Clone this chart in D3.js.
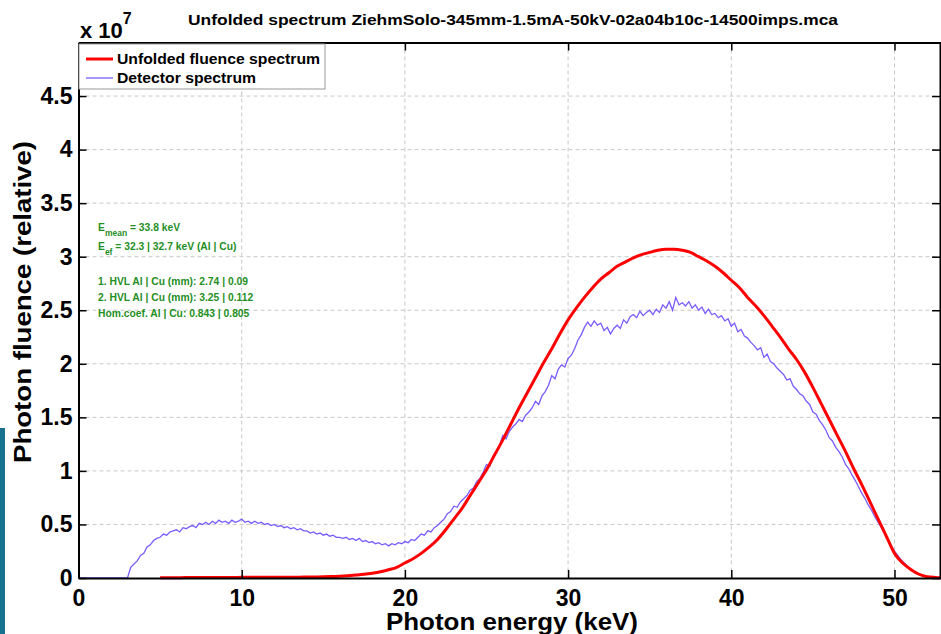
<!DOCTYPE html>
<html>
<head>
<meta charset="utf-8">
<title>Unfolded spectrum</title>
<style>
body { margin: 0; background: #fff; }
text { font-family: "Liberation Sans", Arial, Helvetica, sans-serif; font-weight: bold; }
.grid line { stroke: #c8c8c8; stroke-dasharray: 4,3; stroke-width: 1; }
</style>
</head>
<body>
<script src="https://cdn.jsdelivr.net/npm/d3@7"></script>
<script>
// detector spectrum, 0.2 keV channels starting at 0 keV (units of 1e7)
var detStep = 0.2;
var detValues = [
  0,0,0,0,0, 0,0,0,0,0, 0,0,0,0,0,
  0,0.10,0.13,0.16,0.21,
  0.23,0.29,0.31,0.35,0.37,
  0.38,0.41,0.40,0.43,0.44,
  0.45,0.43,0.47,0.46,0.48,
  0.49,0.47,0.51,0.50,0.52,
  0.50,0.53,0.51,0.54,0.52,
  0.53,0.51,0.54,0.52,0.53,
  0.55,0.52,0.53,0.51,0.53,
  0.51,0.52,0.50,0.51,0.49,
  0.50,0.48,0.49,0.47,0.48,
  0.46,0.47,0.45,0.46,0.44,
  0.44,0.42,0.43,0.41,0.42,
  0.40,0.41,0.39,0.40,0.38,
  0.38,0.37,0.38,0.36,0.37,
  0.35,0.37,0.34,0.35,0.33,
  0.34,0.32,0.33,0.31,0.32,
  0.30,0.32,0.31,0.33,0.32,
  0.34,0.33,0.36,0.35,0.38,
  0.41,0.40,0.44,0.43,0.47,
  0.49,0.52,0.55,0.60,0.62,
  0.67,0.66,0.71,0.74,0.77,
  0.82,0.84,0.90,0.93,0.99,
  1.06,1.04,1.13,1.17,1.24,
  1.33,1.30,1.37,1.41,1.44,
  1.48,1.46,1.52,1.55,1.59,
  1.65,1.62,1.70,1.74,1.80,
  1.89,1.86,1.95,1.99,1.97,
  2.05,2.08,2.14,2.22,2.27,
  2.34,2.39,2.35,2.40,2.36,
  2.38,2.31,2.34,2.28,2.33,
  2.36,2.33,2.41,2.38,2.44,
  2.46,2.43,2.49,2.45,2.48,
  2.50,2.46,2.51,2.48,2.55,
  2.52,2.58,2.50,2.62,2.55,
  2.57,2.54,2.58,2.52,2.55,
  2.50,2.53,2.47,2.51,2.46,
  2.47,2.43,2.45,2.40,2.42,
  2.35,2.38,2.30,2.32,2.26,
  2.24,2.20,2.17,2.13,2.15,
  2.06,2.09,2.02,2.00,1.96,
  1.93,1.90,1.85,1.86,1.79,
  1.76,1.72,1.70,1.65,1.62,
  1.55,1.53,1.47,1.43,1.38,
  1.31,1.28,1.22,1.18,1.13,
  1.06,1.02,0.96,0.91,0.85,
  0.79,0.74,0.68,0.63,0.57,
  0.52,0.47,0.41,0.36,0.30,
  0.25,0.21,0.17,0.14,0.11,
  0.08,0.06,0.045,0.03,0.02,
  0.012,0.008,0.005,0.003,0.002,
  0.001
];

// unfolded fluence, 0.5 keV steps starting at 5 keV
var fluStart = 5, fluStep = 0.5;
var fluValues = [
  0.003,0.003,0.003,0.004,0.004,0.004,0.005,0.005,0.005,0.005,
  0.006,0.006,0.006,0.007,0.007,0.007,0.008,0.008,0.009,0.010,
  0.011,0.013,0.017,0.022,0.028,0.035,0.045,0.058,0.077,0.10,
  0.14,0.18,0.23,0.29,0.36,0.45,0.55,0.65,0.77,0.89,
  1.01,1.15,1.29,1.44,1.59,1.73,1.87,2.01,2.14,2.28,
  2.41,2.52,2.62,2.71,2.79,2.85,2.91,2.95,2.99,3.02,
  3.04,3.06,3.07,3.07,3.06,3.04,3.00,2.96,2.91,2.85,
  2.78,2.71,2.62,2.54,2.45,2.35,2.25,2.14,2.04,1.92,
  1.78,1.63,1.48,1.33,1.18,1.02,0.87,0.71,0.55,0.39,
  0.23,0.14,0.08,0.035,0.012,0.005,0.002
];

var xTicks = [0, 10, 20, 30, 40, 50];
var yTicks = [0, 0.5, 1, 1.5, 2, 2.5, 3, 3.5, 4, 4.5];
var infoLines = [
  "1. HVL Al | Cu (mm): 2.74 | 0.09",
  "2. HVL Al | Cu (mm): 3.25 | 0.112",
  "Hom.coef. Al | Cu: 0.843 | 0.805"
];

var W = 941, H = 634;
var pL = 78.5, pR = 941, pT = 42.5, pB = 578;

var svg = d3.select("body").append("svg")
  .attr("width", W).attr("height", H);

var x = d3.scaleLinear().domain([0, 52.85]).range([pL, pR]);
var y = d3.scaleLinear().domain([0, 5]).range([pB, pT]);

var det = detValues.map(function(v, i) { return { e: i * detStep, v: v }; });
var flu = fluValues.map(function(v, i) { return { e: fluStart + i * fluStep, v: v }; });

// decorative bar on the left edge
svg.append("rect").attr("x", 0).attr("y", 428).attr("width", 5).attr("height", H - 428)
  .attr("fill", "#16708e");

// grid
var grid = svg.append("g").attr("class", "grid");
grid.selectAll(".gx").data(xTicks.filter(function(d) { return d > 0; })).enter().append("line")
  .attr("x1", function(d) { return x(d); }).attr("x2", function(d) { return x(d); })
  .attr("y1", pT).attr("y2", pB);
grid.selectAll(".gy").data(yTicks.filter(function(d) { return d > 0; })).enter().append("line")
  .attr("x1", pL).attr("x2", pR)
  .attr("y1", function(d) { return y(d); }).attr("y2", function(d) { return y(d); });

svg.append("clipPath").attr("id", "clip").append("rect")
  .attr("x", pL).attr("y", pT).attr("width", pR - pL).attr("height", pB - pT + 2);

var line = d3.line()
  .x(function(d) { return x(d.e); })
  .y(function(d) { return y(d.v); });

svg.append("path")
  .attr("clip-path", "url(#clip)")
  .attr("d", line(det))
  .attr("fill", "none").attr("stroke", "#7a5cff").attr("stroke-width", 1.3);

svg.append("path")
  .attr("clip-path", "url(#clip)")
  .attr("d", line.curve(d3.curveMonotoneX)(flu))
  .attr("fill", "none").attr("stroke", "#ff0000").attr("stroke-width", 3);

// axes (inside ticks like matlab)
var xb = svg.append("g").attr("transform", "translate(0," + pB + ")")
  .call(d3.axisBottom(x).tickValues(xTicks).tickSizeInner(-8).tickSizeOuter(0).tickPadding(14));
var xt = svg.append("g").attr("transform", "translate(0," + pT + ")")
  .call(d3.axisTop(x).tickValues(xTicks).tickSizeInner(-8).tickSizeOuter(0).tickFormat(""));
var yl = svg.append("g").attr("transform", "translate(" + pL + ",0)")
  .call(d3.axisLeft(y).tickValues(yTicks).tickSizeInner(-8).tickSizeOuter(0).tickPadding(6).tickFormat(d3.format("")));
var yr = svg.append("g").attr("transform", "translate(" + (pR - 1) + ",0)")
  .call(d3.axisRight(y).tickValues(yTicks).tickSizeInner(-8).tickSizeOuter(0).tickFormat(""));

[xb, xt, yl, yr].forEach(function(g) {
  g.select(".domain").attr("stroke", "#000").attr("stroke-width", 2);
  g.selectAll(".tick line").attr("stroke", "#000").attr("stroke-width", 1.5);
  g.selectAll(".tick text").attr("fill", "#000")
    .style("font-size", "23px").style("font-family", "'Liberation Sans', Arial, sans-serif").style("font-weight", "bold");
});
xb.selectAll(".tick text").attr("dy", "0.6em");

// axis labels
svg.append("text").attr("x", 512).attr("y", 630).attr("text-anchor", "middle")
  .style("font-size", "23px").attr("textLength", 252).attr("lengthAdjust", "spacingAndGlyphs")
  .text("Photon energy (keV)");
svg.append("text").attr("transform", "translate(31,302) rotate(-90)").attr("text-anchor", "middle")
  .style("font-size", "23px").attr("textLength", 322).attr("lengthAdjust", "spacingAndGlyphs")
  .text("Photon fluence (relative)");

// title and exponent
svg.append("text").attr("x", 513).attr("y", 25).attr("text-anchor", "middle")
  .style("font-size", "15px").attr("textLength", 650).attr("lengthAdjust", "spacingAndGlyphs")
  .text("Unfolded spectrum ZiehmSolo-345mm-1.5mA-50kV-02a04b10c-14500imps.mca");
var ex = svg.append("text").attr("x", 80).attr("y", 38).style("font-size", "22px");
ex.append("tspan").text("x 10");
ex.append("tspan").attr("dy", -14).style("font-size", "16px").text("7");

// legend
var lg = svg.append("g");
lg.append("rect").attr("x", 79).attr("y", 44).attr("width", 246).attr("height", 45)
  .attr("fill", "#fff").attr("stroke", "#999").attr("stroke-width", 1);
lg.append("line").attr("x1", 86).attr("x2", 113).attr("y1", 59).attr("y2", 59)
  .attr("stroke", "#ff0000").attr("stroke-width", 3);
lg.append("line").attr("x1", 86).attr("x2", 113).attr("y1", 78).attr("y2", 78)
  .attr("stroke", "#7a5cff").attr("stroke-width", 1.3);
lg.append("text").attr("x", 117).attr("y", 64).style("font-size", "15px")
  .attr("textLength", 203).attr("lengthAdjust", "spacingAndGlyphs").text("Unfolded fluence spectrum");
lg.append("text").attr("x", 117).attr("y", 83).style("font-size", "15px")
  .attr("textLength", 139).attr("lengthAdjust", "spacingAndGlyphs").text("Detector spectrum");

// annotation
var green = "#1f8f1f";
var a1 = svg.append("text").attr("x", 98).attr("y", 231).attr("fill", green).style("font-size", "10.3px");
a1.append("tspan").text("E");
a1.append("tspan").attr("dy", 5).style("font-size", "8.5px").text("mean");
a1.append("tspan").attr("dy", -5).text(" = 33.8 keV");
var a2 = svg.append("text").attr("x", 98).attr("y", 250).attr("fill", green).style("font-size", "10.3px");
a2.append("tspan").text("E");
a2.append("tspan").attr("dy", 5).style("font-size", "8.5px").text("ef");
a2.append("tspan").attr("dy", -5).text(" = 32.3 | 32.7 keV  (Al | Cu)");
svg.selectAll(".info").data(infoLines).enter().append("text")
  .attr("x", 98).attr("y", function(d, i) { return 285 + i * 16; })
  .attr("fill", green).style("font-size", "10.3px")
  .text(function(d) { return d; });
</script>
</body>
</html>
